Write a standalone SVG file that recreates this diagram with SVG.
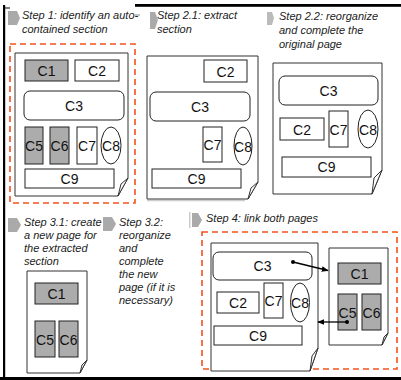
<svg xmlns="http://www.w3.org/2000/svg" width="401" height="380" viewBox="0 0 401 380">
<defs>
<style>
.step{font-family:"Liberation Sans",Arial,sans-serif;font-size:11px;font-style:italic;fill:#222}
.lbl{font-family:"Liberation Sans",Arial,sans-serif;font-size:14px;fill:#111;text-anchor:middle}
.page{fill:#fff;stroke:#333;stroke-width:1}
.flap{fill:#fff;stroke:#333;stroke-width:1;stroke-linejoin:round}
.box{fill:#fff;stroke:#222;stroke-width:1}
.gbox{fill:#acacac;stroke:#222;stroke-width:1}
.mark{fill:#aaa}
.dash{fill:none;stroke:#f4511e;stroke-width:1.6;stroke-dasharray:6 4}
.conn{stroke:#000;stroke-width:1.3;fill:none}
</style>
<marker id="ah" viewBox="0 0 10 10" refX="9" refY="5" markerWidth="7" markerHeight="7" orient="auto" markerUnits="userSpaceOnUse">
<path d="M0,1 L10,5 L0,9 Z" fill="#000"/>
</marker>
</defs>
<rect width="401" height="380" fill="#fff"/>
<g id="frame">
<rect x="3" y="5" width="2.2" height="375" fill="#000"/>
<rect x="3" y="7.5" width="7" height="1" fill="#000"/>
<rect x="135" y="4" width="266" height="2.8" fill="#000"/>
<rect x="0" y="377" width="401" height="3" fill="#000"/>
<line x1="147" y1="200.5" x2="245" y2="200.5" stroke="#ccc" stroke-width="1.5"/>
<rect x="189" y="212" width="1.5" height="16" fill="#ccc"/>
</g>
<g id="step1-label">
<path class="mark" d="M8,11 H17 L20,18 L17,25 H8 Z"/>
<text class="step" x="22" y="19">Step 1: identify an auto-</text>
<text class="step" x="22" y="33">contained section</text>
</g>
<g id="step21-label">
<rect x="135" y="14.5" width="5" height="1" fill="#888"/>
<path class="mark" d="M150,12 H155 L158,20 L155,29 H150 Z"/>
<text class="step" x="157" y="19">Step 2.1: extract</text>
<text class="step" x="157" y="33">section</text>
</g>
<g id="step22-label">
<path d="M267,12 H272 L274,18 L272,25 H267 Z" fill="#bbb"/>
<text class="step" x="279" y="20">Step 2.2: reorganize</text>
<text class="step" x="279" y="34">and complete the</text>
<text class="step" x="279" y="48">original page</text>
</g>
<g id="step31-label">
<path class="mark" d="M8,218 H17 L21,225 L17,232 H8 Z"/>
<text class="step" x="24" y="226">Step 3.1: create</text>
<text class="step" x="24" y="239">a new page for</text>
<text class="step" x="24" y="252">the extracted</text>
<text class="step" x="24" y="265">section</text>
</g>
<g id="step32-label">
<path class="mark" d="M103,217 H112 L116,224 L112,231 H103 Z"/>
<text class="step" x="119" y="226">Step 3.2:</text>
<text class="step" x="119" y="239">reorganize</text>
<text class="step" x="119" y="252">and</text>
<text class="step" x="119" y="265">complete</text>
<text class="step" x="119" y="278">the new</text>
<text class="step" x="119" y="291">page (if it is</text>
<text class="step" x="119" y="304">necessary)</text>
</g>
<g id="step4-label">
<path class="mark" d="M192,213 H198 L202,220 L198,227 H192 Z"/>
<text class="step" x="206" y="222">Step 4: link both pages</text>
</g>
<g id="step1">
<rect class="dash" x="10" y="44" width="125" height="159"/>
<path class="page" d="M15,53 H128 V178 L118,196 H15 Z"/>
<path class="flap" d="M128,178 L121,184 L118,196 Z"/>
<rect class="gbox" x="25" y="60" width="43" height="21"/><text class="lbl" x="46.5" y="76">C1</text>
<rect class="box" x="75" y="60" width="44" height="21"/><text class="lbl" x="97" y="76">C2</text>
<rect class="box" x="24" y="91" width="100" height="29" rx="6"/><text class="lbl" x="74" y="110.5">C3</text>
<rect class="gbox" x="25" y="127" width="18" height="37"/><text class="lbl" x="34" y="151">C5</text>
<rect class="gbox" x="50" y="127" width="19" height="37"/><text class="lbl" x="59.5" y="151">C6</text>
<rect class="box" x="77" y="127" width="20" height="37"/><text class="lbl" x="87" y="151">C7</text>
<ellipse class="box" cx="111" cy="145.5" rx="10" ry="18.5"/><text class="lbl" x="111" y="151">C8</text>
<rect class="box" x="25" y="169" width="89" height="19"/><text class="lbl" x="69.5" y="183.5">C9</text>
</g>
<g id="step21">
<path class="page" d="M147,56 H258 V182 L248,199 H147 Z"/>
<path class="flap" d="M258,182 L251,188 L248,199 Z"/>
<rect class="box" x="204" y="60" width="43" height="22"/><text class="lbl" x="225.5" y="76.5">C2</text>
<rect class="box" x="150" y="92" width="100" height="29" rx="6"/><text class="lbl" x="200" y="111.5">C3</text>
<rect class="box" x="203" y="127" width="19" height="35"/><text class="lbl" x="212.5" y="150">C7</text>
<ellipse class="box" cx="243" cy="146" rx="9" ry="19"/><text class="lbl" x="243" y="151.5">C8</text>
<rect class="box" x="152" y="169" width="89" height="19"/><text class="lbl" x="196.5" y="183.5">C9</text>
</g>
<g id="step22">
<path class="page" d="M273,63 H382 V170 L372,194 H273 Z"/>
<path class="flap" d="M382,170 L374,178 L372,194 Z"/>
<rect class="box" x="279" y="76" width="99" height="29" rx="6"/><text class="lbl" x="328.5" y="95.5">C3</text>
<rect class="box" x="280" y="118" width="44" height="22"/><text class="lbl" x="302" y="134.5">C2</text>
<rect class="box" x="329" y="111" width="19" height="36"/><text class="lbl" x="338.5" y="134.5">C7</text>
<ellipse class="box" cx="368" cy="129" rx="10" ry="19"/><text class="lbl" x="368" y="134.5">C8</text>
<rect class="box" x="282" y="157" width="89" height="20"/><text class="lbl" x="326.5" y="172">C9</text>
</g>
<g id="step31">
<path class="page" d="M27,271 H87 V360 L80,373 H27 Z"/>
<path class="flap" d="M87,360 L82,365 L80,373 Z"/>
<rect class="gbox" x="35" y="283" width="43" height="21"/><text class="lbl" x="56.5" y="299">C1</text>
<rect class="gbox" x="35" y="321" width="20" height="36"/><text class="lbl" x="45" y="344.5">C5</text>
<rect class="gbox" x="59" y="321" width="19" height="36"/><text class="lbl" x="68.5" y="344.5">C6</text>
</g>
<g id="step4">
<rect class="dash" x="202" y="232" width="195" height="137"/>
<g id="step4-page-a">
<path class="page" d="M211,243 H318 V348 L310,371 H211 Z"/>
<path class="flap" d="M318,348 L312,356 L310,371 Z"/>
<rect class="box" x="213" y="252" width="99" height="28" rx="6"/><text class="lbl" x="262.5" y="271">C3</text>
<rect class="box" x="217" y="292" width="42" height="21"/><text class="lbl" x="238" y="308">C2</text>
<rect class="box" x="264" y="283" width="19" height="35"/><text class="lbl" x="273.5" y="306">C7</text>
<ellipse class="box" cx="300" cy="302.5" rx="9.5" ry="19.5"/><text class="lbl" x="300" y="308">C8</text>
<rect class="box" x="214" y="326" width="88" height="19"/><text class="lbl" x="258" y="340.5">C9</text>
</g>
<g id="step4-page-b">
<path class="page" d="M329,248 H388 V333 L382,345 H329 Z"/>
<path class="flap" d="M388,333 L384,337 L382,345 Z"/>
<rect class="gbox" x="338" y="263" width="43" height="21"/><text class="lbl" x="359.5" y="279">C1</text>
<rect class="gbox" x="338" y="294" width="19" height="36"/><text class="lbl" x="347.5" y="317.5">C5</text>
<rect class="gbox" x="362" y="294" width="19" height="36"/><text class="lbl" x="371.5" y="317.5">C6</text>
</g>
</g>
<g id="connectors">
<line class="conn" x1="293" y1="262" x2="328" y2="270.5" marker-end="url(#ah)"/>
<circle cx="293" cy="262" r="2" fill="#000"/>
<line class="conn" x1="347" y1="322" x2="318" y2="322" marker-end="url(#ah)"/>
<circle cx="347" cy="322" r="2" fill="#000"/>
</g>
</svg>
